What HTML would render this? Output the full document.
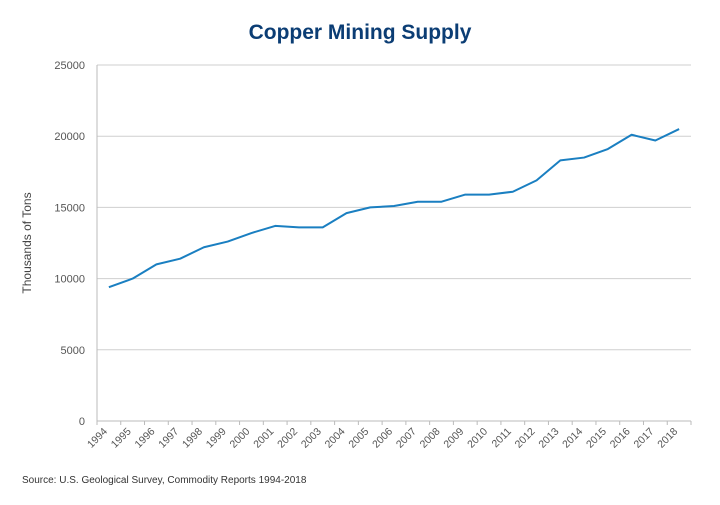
<!DOCTYPE html>
<html><head><meta charset="utf-8"><style>
body{margin:0;background:#fff;font-family:"Liberation Sans",sans-serif;}
</style></head><body>
<svg id="chart" width="720" height="500" xmlns="http://www.w3.org/2000/svg">
<text x="360" y="39" text-anchor="middle" font-family="Liberation Sans" font-weight="bold" font-size="21" fill="#0b3d74">Copper Mining Supply</text>
<text transform="translate(31,243) rotate(-90)" text-anchor="middle" font-size="12" fill="#444">Thousands of Tons</text>
<text x="22" y="483" font-size="10" fill="#333">Source: U.S. Geological Survey, Commodity Reports 1994-2018</text>
<g id="grid"></g><g id="axes"></g><g id="series"></g>
</svg>
<script>
const years=["1994","1995","1996","1997","1998","1999","2000","2001","2002","2003","2004","2005","2006","2007","2008","2009","2010","2011","2012","2013","2014","2015","2016","2017","2018"];
const supply=[9400,10000,11000,11400,12200,12600,13200,13700,13600,13600,14600,15000,15100,15400,15400,15900,15900,16100,16900,18300,18500,19100,20100,19700,20500];
const yTicks=[0,5000,10000,15000,20000,25000];
const NS="http://www.w3.org/2000/svg";
const L=97,R=691,T=65,B=421,yMax=25000;
const bw=(R-L)/years.length;
const xs=i=>L+bw*(i+0.5);
const ys=v=>B-(v/yMax)*(B-T);
function mk(t,a,p){const e=document.createElementNS(NS,t);for(const k in a)e.setAttribute(k,a[k]);p.appendChild(e);return e;}
const grid=document.getElementById('grid'),axes=document.getElementById('axes'),ser=document.getElementById('series');
yTicks.forEach(v=>{
  if(v>0){const g=mk('line',{x1:L,x2:R,y1:ys(v),y2:ys(v),stroke:'#cfcfcf','stroke-width':1},grid);
  
  }
  const t=mk('text',{x:L-12,y:ys(v)+4,'text-anchor':'end','font-size':11,fill:'#555'},axes);t.textContent=v;
  
  
});
const xa=mk('line',{x1:L,x2:R,y1:B,y2:B,stroke:'#bbb'},axes);


const ya=mk('line',{x1:L,x2:L,y1:T,y2:B,stroke:'#bbb'},axes);


for(let i=0;i<=years.length;i++){const tk=mk('line',{x1:L+bw*i,x2:L+bw*i,y1:B,y2:B+4,stroke:'#bbb'},axes);
  
  }
years.forEach((y,i)=>{
  const t=mk('text',{transform:`translate(${xs(i)-1},${B+11}) rotate(-45)`,'text-anchor':'end','font-size':10.5,fill:'#555'},axes);t.textContent=y;
  
  
});
const pl=mk('polyline',{points:supply.map((v,i)=>xs(i)+','+ys(v)).join(' '),fill:'none',stroke:'#1a7fc1','stroke-width':2,'stroke-linejoin':'round'},ser);


</script>
</body></html>
